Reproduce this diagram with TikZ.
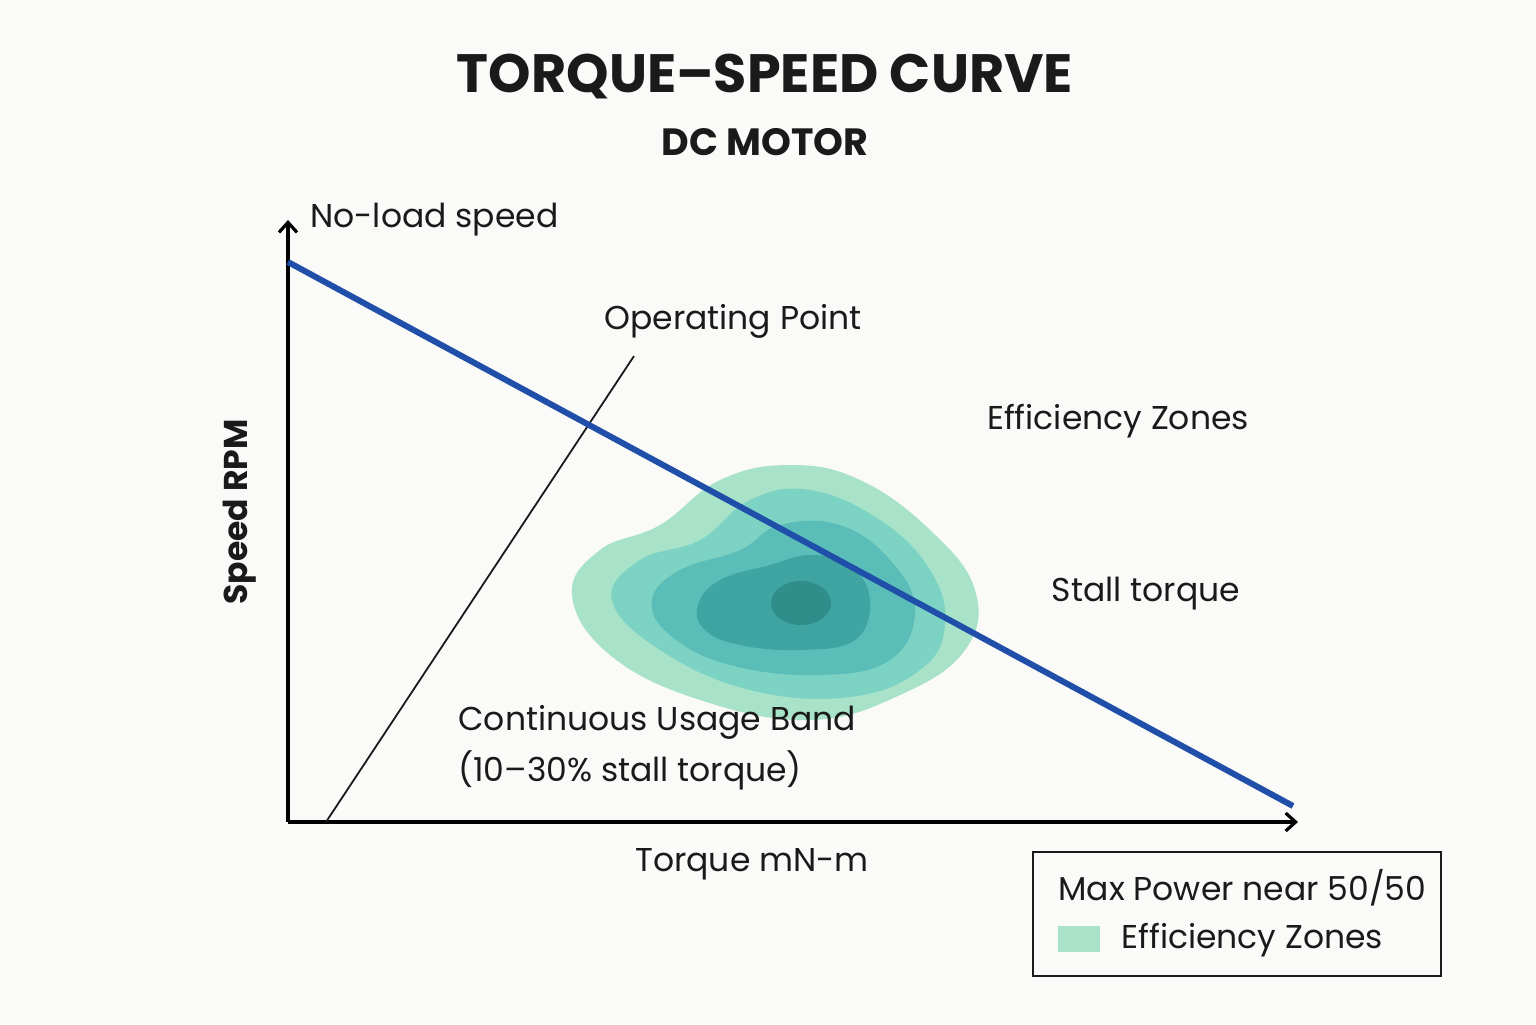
\documentclass[tikz,border=0pt]{standalone}
\usepackage{fontspec}
\setmainfont{Poppins}
\usetikzlibrary{arrows.meta}
\definecolor{bg}{HTML}{FAFAF8}
\definecolor{blueline}{HTML}{1F4FA8}
\definecolor{z1}{HTML}{A8E2C8}
\definecolor{z2}{HTML}{7DD3C3}
\definecolor{z3}{HTML}{5BBDB8}
\definecolor{z4}{HTML}{40A5A2}
\definecolor{z5}{HTML}{2F8D8A}
\definecolor{txt}{HTML}{1A1A1A}
\tikzset{lbl/.style={font=\fontsize{16.5}{20}\selectfont, text=txt, inner sep=0pt},
 axisline/.style={line width=1.6pt, -{Straight Barb[length=5pt,width=9pt]}}}
\begin{document}
\begin{tikzpicture}[x=0.5pt,y=-0.5pt]
\fill[bg] (0,0) rectangle (1536,1024);
\useasboundingbox (0,0) rectangle (1536,1024);
\node[font=\fontsize{27}{32}\selectfont\bfseries, text=txt] (title) at (765,77) {TORQUE–SPEED CURVE};
\node[font=\fontsize{19}{24}\selectfont\bfseries, text=txt] (sub) at (765,142) {DC MOTOR};
% zones
\fill[z1] plot[smooth cycle, tension=0.7] coordinates {(572,595)(600,550)(660,525)(720,480)(790,465)(860,480)(930,530)(975,590)(965,650)(900,695)(810,720)(700,700)(610,655)};
\fill[z2] plot[smooth cycle, tension=0.7] coordinates {(612,600)(640,560)(700,540)(750,500)(810,490)(880,520)(930,570)(945,625)(920,670)(850,697)(750,690)(660,650)};
\fill[z3] plot[smooth cycle, tension=0.7] coordinates {(652,600)(680,570)(740,550)(780,525)(840,525)(890,560)(915,610)(890,660)(820,675)(730,665)(670,635)};
\fill[z4] plot[smooth cycle, tension=0.7] coordinates {(698,605)(720,580)(770,565)(810,555)(850,565)(870,600)(855,640)(800,650)(740,645)(705,630)};
\fill[z5] (801,603) ellipse [x radius=30, y radius=22];
% axes
\coordinate (O) at (288,822);
\coordinate (Ytop) at (288,220);
\coordinate (Xend) at (1298,822);
\draw[axisline] (O) -- (Ytop);
\draw[axisline] (O) -- (Xend);
\coordinate (opA) at (326,822);
\coordinate (opB) at (634,356);
\draw[line width=0.9pt, txt] (opA) -- (opB);
\coordinate (bl1) at (288,262);
\coordinate (bl2) at (1293,806);
\draw[blueline, line width=3pt] (bl1) -- (bl2);
% labels
\node[lbl, anchor=west] (nl) at (310,220) {No-load speed};
\node[lbl] (op) at (733,321) {Operating Point};
\node[lbl] (ez) at (1118,421) {Efficiency Zones};
\node[lbl] (st) at (1146,594) {Stall torque};
\node[lbl, anchor=west] (cu) at (458,722) {Continuous Usage Band};
\node[lbl, anchor=west] (cu2) at (458,770) {(10–30\% stall torque)};
\node[lbl] (tq) at (752,864) {Torque mN-m};
\node[lbl, font=\fontsize{16.5}{20}\selectfont\bfseries, rotate=90] (sp) at (240,512) {Speed RPM};
% legend
\draw[line width=1.1pt, txt] (1033,852) rectangle (1441,976);
\node[lbl, anchor=west] (lg1) at (1058,888) {Max Power near 50/50};
\fill[z1] (1058,926) rectangle (1100,952);
\node[lbl, anchor=west] (lg2) at (1121,940) {Efficiency Zones};
\end{tikzpicture}
\end{document}
